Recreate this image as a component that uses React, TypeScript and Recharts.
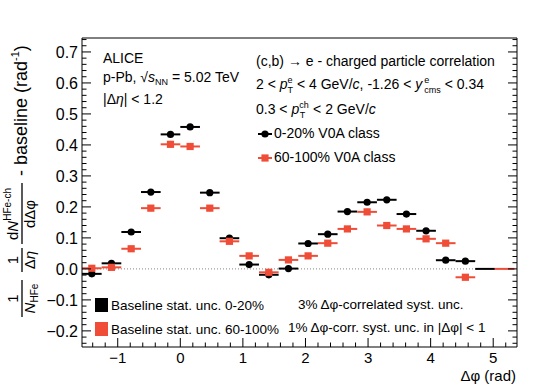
import React from 'react';
import { ScatterChart, Scatter, XAxis, YAxis, ErrorBar, ReferenceLine } from 'recharts';

// bin centres in delta phi (rad), bins of pi/10
const deltaPhi = [
  -1.414, -1.100, -0.785, -0.471, -0.157, 0.157, 0.471, 0.785, 1.100, 1.414,
  1.728, 2.042, 2.356, 2.670, 2.985, 3.299, 3.613, 3.927, 4.241, 4.555,
];
const binHalfWidth = 0.157;

const yield0to20 = [
  -0.016, 0.018, 0.119, 0.248, 0.434, 0.458, 0.246, 0.099, 0.014, -0.019,
  0.001, 0.082, 0.112, 0.185, 0.215, 0.223, 0.177, 0.123, 0.028, 0.025,
];
const yield60to100 = [
  0.002, 0.005, 0.065, 0.196, 0.402, 0.395, 0.196, 0.089, 0.042, -0.011,
  0.029, 0.042, 0.083, 0.129, 0.184, 0.140, 0.129, 0.097, 0.083, -0.027,
];
const stat0to20 = [
  0.006, 0.006, 0.006, 0.007, 0.008, 0.008, 0.007, 0.006, 0.006, 0.006,
  0.006, 0.006, 0.006, 0.006, 0.007, 0.007, 0.006, 0.006, 0.006, 0.006,
];
const stat60to100 = [
  0.009, 0.009, 0.009, 0.010, 0.011, 0.011, 0.010, 0.009, 0.009, 0.009,
  0.009, 0.009, 0.009, 0.009, 0.010, 0.010, 0.009, 0.009, 0.009, 0.009,
];

// empty bins drawn past 3pi/2
const tailPhi0to20 = [4.869];
const tailPhi60to100 = [5.183];

const xMajorTicks = [-1, 0, 1, 2, 3, 4, 5];
const yMajorTicks = [-0.2, -0.1, 0, 0.1, 0.2, 0.3, 0.4, 0.5, 0.6, 0.7];

const X_DOMAIN: [number, number] = [-1.5708, 5.38];
const Y_DOMAIN: [number, number] = [-0.252, 0.745];

const RED = '#ef4d37';
const FONT = '"Liberation Sans", Arial, Helvetica, sans-serif';

const xTicks: number[] = [];
for (let v = -1.4; v <= 5.3; v += 0.2) xTicks.push(Math.round(v * 10) / 10);
const yTicks: number[] = [];
for (let v = -0.24; v <= 0.745; v += 0.02) yTicks.push(Math.round(v * 100) / 100);

const isXMajor = (v: number) => xMajorTicks.some((m) => Math.abs(m - v) < 1e-6);
const isYMajor = (v: number) => yMajorTicks.some((m) => Math.abs(m - v) < 1e-6);
const fmt = (s: string) => s.replace('-', '\u2212');

const rows = (ys: number[], errs: number[]) =>
  deltaPhi.map((x, i) => ({ x, y: ys[i], ex: binHalfWidth, ey: errs[i] }));
const tailRows = (xs: number[]) => xs.map((x) => ({ x, y: 0, ex: binHalfWidth }));

const BottomTick = (p: any) => {
  const v = p.payload.value;
  const major = isXMajor(v);
  return (
    <g>
      <line x1={p.x} x2={p.x} y1={p.y} y2={p.y - (major ? 9 : 4.5)} stroke="#000" />
      {major && (
        <text x={p.x} y={p.y + 16} textAnchor="middle" fontSize={15} fontFamily={FONT} fill="#000">
          {fmt(String(v))}
        </text>
      )}
    </g>
  );
};
const TopTick = (p: any) => {
  const major = isXMajor(p.payload.value);
  return <line x1={p.x} x2={p.x} y1={p.y} y2={p.y + (major ? 9 : 4.5)} stroke="#000" />;
};
const LeftTick = (p: any) => {
  const v = p.payload.value;
  const major = isYMajor(v);
  return (
    <g>
      <line x1={p.x} x2={p.x + (major ? 9 : 4.5)} y1={p.y} y2={p.y} stroke="#000" />
      {major && (
        <text x={p.x - 4} y={p.y} dy="0.36em" textAnchor="end" fontSize={16} fontFamily={FONT} fill="#000">
          {fmt(v.toFixed(1))}
        </text>
      )}
    </g>
  );
};
const RightTick = (p: any) => {
  const major = isYMajor(p.payload.value);
  return <line x1={p.x} x2={p.x - (major ? 9 : 4.5)} y1={p.y} y2={p.y} stroke="#000" />;
};

const Dot = (p: any) => <circle cx={p.cx} cy={p.cy} r={3.6} fill="#000" />;
const Square = (p: any) => <rect x={p.cx - 3.6} y={p.cy - 3.6} width={7.2} height={7.2} fill={RED} />;
const NoMark = () => <g />;

const YTitle = () => (
  <g transform="translate(0,386) rotate(-90)" fontFamily={FONT} fill="#000">
    <line x1={69} x2={106} y1={22} y2={22} stroke="#000" strokeWidth={1.3} />
    <text x={87.5} y={18} fontSize={15} textAnchor="middle">1</text>
    <text x={87.5} y={35} fontSize={15} textAnchor="middle">
      <tspan fontStyle="italic">N</tspan>
      <tspan fontSize={10} dy={3}>HFe</tspan>
    </text>
    <line x1={114} x2={138} y1={22} y2={22} stroke="#000" strokeWidth={1.3} />
    <text x={126} y={18} fontSize={15} textAnchor="middle">1</text>
    <text x={126} y={35} fontSize={15} textAnchor="middle">
      Δ<tspan fontStyle="italic">η</tspan>
    </text>
    <line x1={142} x2={203} y1={22} y2={22} stroke="#000" strokeWidth={1.3} />
    <text x={172} y={18} fontSize={15} textAnchor="middle">
      d<tspan fontStyle="italic">N</tspan>
      <tspan fontSize={10} dy={-7}>HFe-ch</tspan>
    </text>
    <text x={172} y={35} fontSize={15} textAnchor="middle">dΔφ</text>
    <text x={210} y={27} fontSize={18}>
      - baseline (rad<tspan fontSize={11} dy={-8}>-1</tspan>
      <tspan dy={8}>)</tspan>
    </text>
  </g>
);

const Annotations = () => (
  <svg
    width={545}
    height={386}
    style={{ position: 'absolute', left: 0, top: 0, pointerEvents: 'none' }}
    fontFamily={FONT}
    fill="#000"
  >
    <YTitle />
    <g fontSize={14}>
      <text x={103} y={63}>ALICE</text>
      <text x={103} y={82}>
        p-Pb, √<tspan fontStyle="italic">s</tspan>
        <tspan fontSize={9} dy={3}>NN</tspan>
        <tspan dy={-3}> = 5.02 TeV</tspan>
      </text>
      <text x={103} y={104}>
        |Δ<tspan fontStyle="italic">η</tspan>| &lt; 1.2
      </text>

      <text x={256} y={66}>(c,b) → e - charged particle correlation</text>
      <text x={256} y={89}>
        2 &lt; <tspan fontStyle="italic">p</tspan>
        <tspan fontSize={9} dy={-6}>e</tspan>
        <tspan fontSize={9} dx={-5} dy={10}>T</tspan>
        <tspan dy={-4}> &lt; 4 GeV/</tspan>
        <tspan fontStyle="italic">c</tspan>, -1.26 &lt; <tspan fontStyle="italic">y</tspan>
        <tspan fontSize={9} dx={2} dy={-6}>e</tspan>
        <tspan fontSize={9} dx={-5} dy={10}>cms</tspan>
        <tspan dy={-4}> &lt; 0.34</tspan>
      </text>
      <text x={256} y={114}>
        0.3 &lt; <tspan fontStyle="italic">p</tspan>
        <tspan fontSize={9} dy={-6}>ch</tspan>
        <tspan fontSize={9} dx={-9} dy={10}>T</tspan>
        <tspan dx={4} dy={-4}> &lt; 2 GeV/</tspan>
        <tspan fontStyle="italic">c</tspan>
      </text>

      <line x1={258} x2={272} y1={134} y2={134} stroke="#000" strokeWidth={2} />
      <circle cx={265} cy={134} r={3.6} fill="#000" />
      <text x={274} y={138}>0-20% V0A class</text>
      <line x1={258} x2={272} y1={158} y2={158} stroke={RED} strokeWidth={2} />
      <rect x={261.4} y={154.4} width={7.2} height={7.2} fill={RED} />
      <text x={274} y={162}>60-100% V0A class</text>
    </g>
    <g fontSize={13.5}>
      <rect x={95} y={298} width={13} height={14} fill="#000" />
      <text x={111} y={310}>Baseline stat. unc. 0-20%</text>
      <rect x={95} y={322} width={13} height={14} fill={RED} />
      <text x={111} y={334}>Baseline stat. unc. 60-100%</text>
      <text x={298} y={309}>3% Δφ-correlated syst. unc.</text>
      <text x={288} y={332}>1% Δφ-corr. syst. unc. in |Δφ| &lt; 1</text>
    </g>
    <text x={516} y={381} fontSize={15} textAnchor="end">Δφ (rad)</text>
  </svg>
);

export default function App() {
  return (
    <div style={{ position: 'absolute', left: 0, top: 0, width: 545, height: 386, background: '#fff' }}>
      <ScatterChart width={545} height={386} margin={{ top: 37, right: 27, bottom: 38, left: 81 }}>
        <XAxis
          xAxisId="b"
          type="number"
          dataKey="x"
          domain={X_DOMAIN}
          allowDataOverflow
          ticks={xTicks}
          interval={0}
          height={1}
          tickSize={0}
          tickMargin={0}
          tickLine={false}
          tick={BottomTick}
          axisLine={{ stroke: '#000' }}
        />
        <XAxis
          xAxisId="t"
          orientation="top"
          type="number"
          domain={X_DOMAIN}
          allowDataOverflow
          ticks={xTicks}
          interval={0}
          height={1}
          tickSize={0}
          tickMargin={0}
          tickLine={false}
          tick={TopTick}
          axisLine={{ stroke: '#000' }}
        />
        <YAxis
          yAxisId="l"
          type="number"
          dataKey="y"
          domain={Y_DOMAIN}
          allowDataOverflow
          ticks={yTicks}
          interval={0}
          width={1}
          tickSize={0}
          tickMargin={0}
          tickLine={false}
          tick={LeftTick}
          axisLine={{ stroke: '#000' }}
        />
        <YAxis
          yAxisId="r"
          orientation="right"
          type="number"
          domain={Y_DOMAIN}
          allowDataOverflow
          ticks={yTicks}
          interval={0}
          width={1}
          tickSize={0}
          tickMargin={0}
          tickLine={false}
          tick={RightTick}
          axisLine={{ stroke: '#000' }}
        />
        <ReferenceLine
          xAxisId="b"
          yAxisId="l"
          segment={[{ x: -1.5708, y: 0 }, { x: 4.712, y: 0 }]}
          stroke="#888"
          strokeDasharray="1 2"
        />
        <Scatter xAxisId="b" yAxisId="l" data={rows(yield0to20, stat0to20)} shape={Dot} isAnimationActive={false}>
          <ErrorBar dataKey="ex" direction="x" width={0} stroke="#000" strokeWidth={2} isAnimationActive={false} />
          <ErrorBar dataKey="ey" direction="y" width={0} stroke="#000" strokeWidth={1.5} isAnimationActive={false} />
        </Scatter>
        <Scatter xAxisId="b" yAxisId="l" data={rows(yield60to100, stat60to100)} shape={Square} isAnimationActive={false}>
          <ErrorBar dataKey="ex" direction="x" width={0} stroke={RED} strokeWidth={2} isAnimationActive={false} />
          <ErrorBar dataKey="ey" direction="y" width={0} stroke={RED} strokeWidth={1.5} isAnimationActive={false} />
        </Scatter>
        <Scatter xAxisId="b" yAxisId="l" data={tailRows(tailPhi0to20)} shape={NoMark} isAnimationActive={false}>
          <ErrorBar dataKey="ex" direction="x" width={0} stroke="#000" strokeWidth={2} isAnimationActive={false} />
        </Scatter>
        <Scatter xAxisId="b" yAxisId="l" data={tailRows(tailPhi60to100)} shape={NoMark} isAnimationActive={false}>
          <ErrorBar dataKey="ex" direction="x" width={0} stroke={RED} strokeWidth={2} isAnimationActive={false} />
        </Scatter>
      </ScatterChart>
      <Annotations />
    </div>
  );
}
